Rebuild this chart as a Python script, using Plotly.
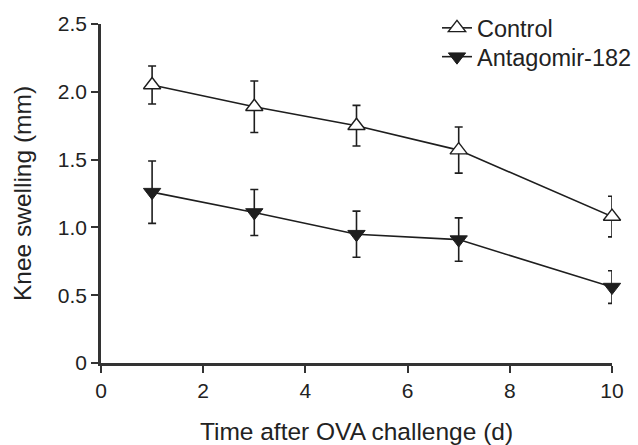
import plotly.graph_objects as go

# Days after OVA challenge
days = [1, 3, 5, 7, 10]

# Knee swelling (mm), mean and SEM
control_mean = [2.05, 1.89, 1.75, 1.57, 1.08]
control_err = [0.14, 0.19, 0.15, 0.17, 0.15]
antago_mean = [1.26, 1.11, 0.95, 0.91, 0.56]
antago_err = [0.23, 0.17, 0.17, 0.16, 0.12]

y_ticks = [0, 0.5, 1.0, 1.5, 2.0, 2.5]
y_tick_text = ["0", "0.5", "1.0", "1.5", "2.0", "2.5"]
x_ticks = [0, 2, 4, 6, 8, 10]

ink = "#1e1e1e"
font_family = "Arial, Liberation Sans, Helvetica, sans-serif"

fig = go.Figure()

fig.add_trace(go.Scatter(
    x=days, y=control_mean, name="Control", mode="lines+markers",
    line=dict(color=ink, width=1.6),
    marker=dict(symbol="triangle-up", size=15, color="white",
                line=dict(color=ink, width=1.4)),
    error_y=dict(type="data", array=control_err, visible=True,
                 color=ink, thickness=1.6, width=4),
    cliponaxis=False, legend="legend",
))

fig.add_trace(go.Scatter(
    x=days, y=antago_mean, name="Antagomir-182", mode="lines+markers",
    line=dict(color=ink, width=1.6),
    marker=dict(symbol="triangle-down", size=15, color=ink,
                line=dict(color=ink, width=1)),
    error_y=dict(type="data", array=antago_err, visible=True,
                 color=ink, thickness=1.6, width=4),
    cliponaxis=False, legend="legend2",
))

legend_style = dict(xanchor="left", yanchor="middle", bgcolor="rgba(0,0,0,0)",
                    font=dict(size=23.5), itemwidth=30)

fig.update_layout(
    width=638, height=445,
    margin=dict(l=101, r=26, t=24, b=82, autoexpand=False),
    paper_bgcolor="white", plot_bgcolor="white",
    font=dict(family=font_family, color="#222222", size=21),
    showlegend=True,
    legend=dict(x=0.6575, y=0.988, **legend_style),
    legend2=dict(x=0.6575, y=0.903, **legend_style),
    xaxis=dict(
        range=[0, 10], tickvals=x_ticks, showgrid=False, zeroline=False,
        showline=True, linecolor="#333333", linewidth=2.5,
        ticks="outside", ticklen=7, tickwidth=2, tickcolor="#333333",
        tickfont=dict(size=21),
        title=dict(text="Time after OVA challenge (d)", font=dict(size=24.5), standoff=29),
    ),
    yaxis=dict(
        range=[0, 2.5], tickvals=y_ticks, ticktext=y_tick_text,
        showgrid=False, zeroline=False,
        showline=True, linecolor="#333333", linewidth=2.5,
        ticks="outside", ticklen=7, tickwidth=2, tickcolor="#333333",
        tickfont=dict(size=21),
        title=dict(text="Knee swelling (mm)", font=dict(size=24.5), standoff=20),
    ),
)

fig.write_html("out.html")
